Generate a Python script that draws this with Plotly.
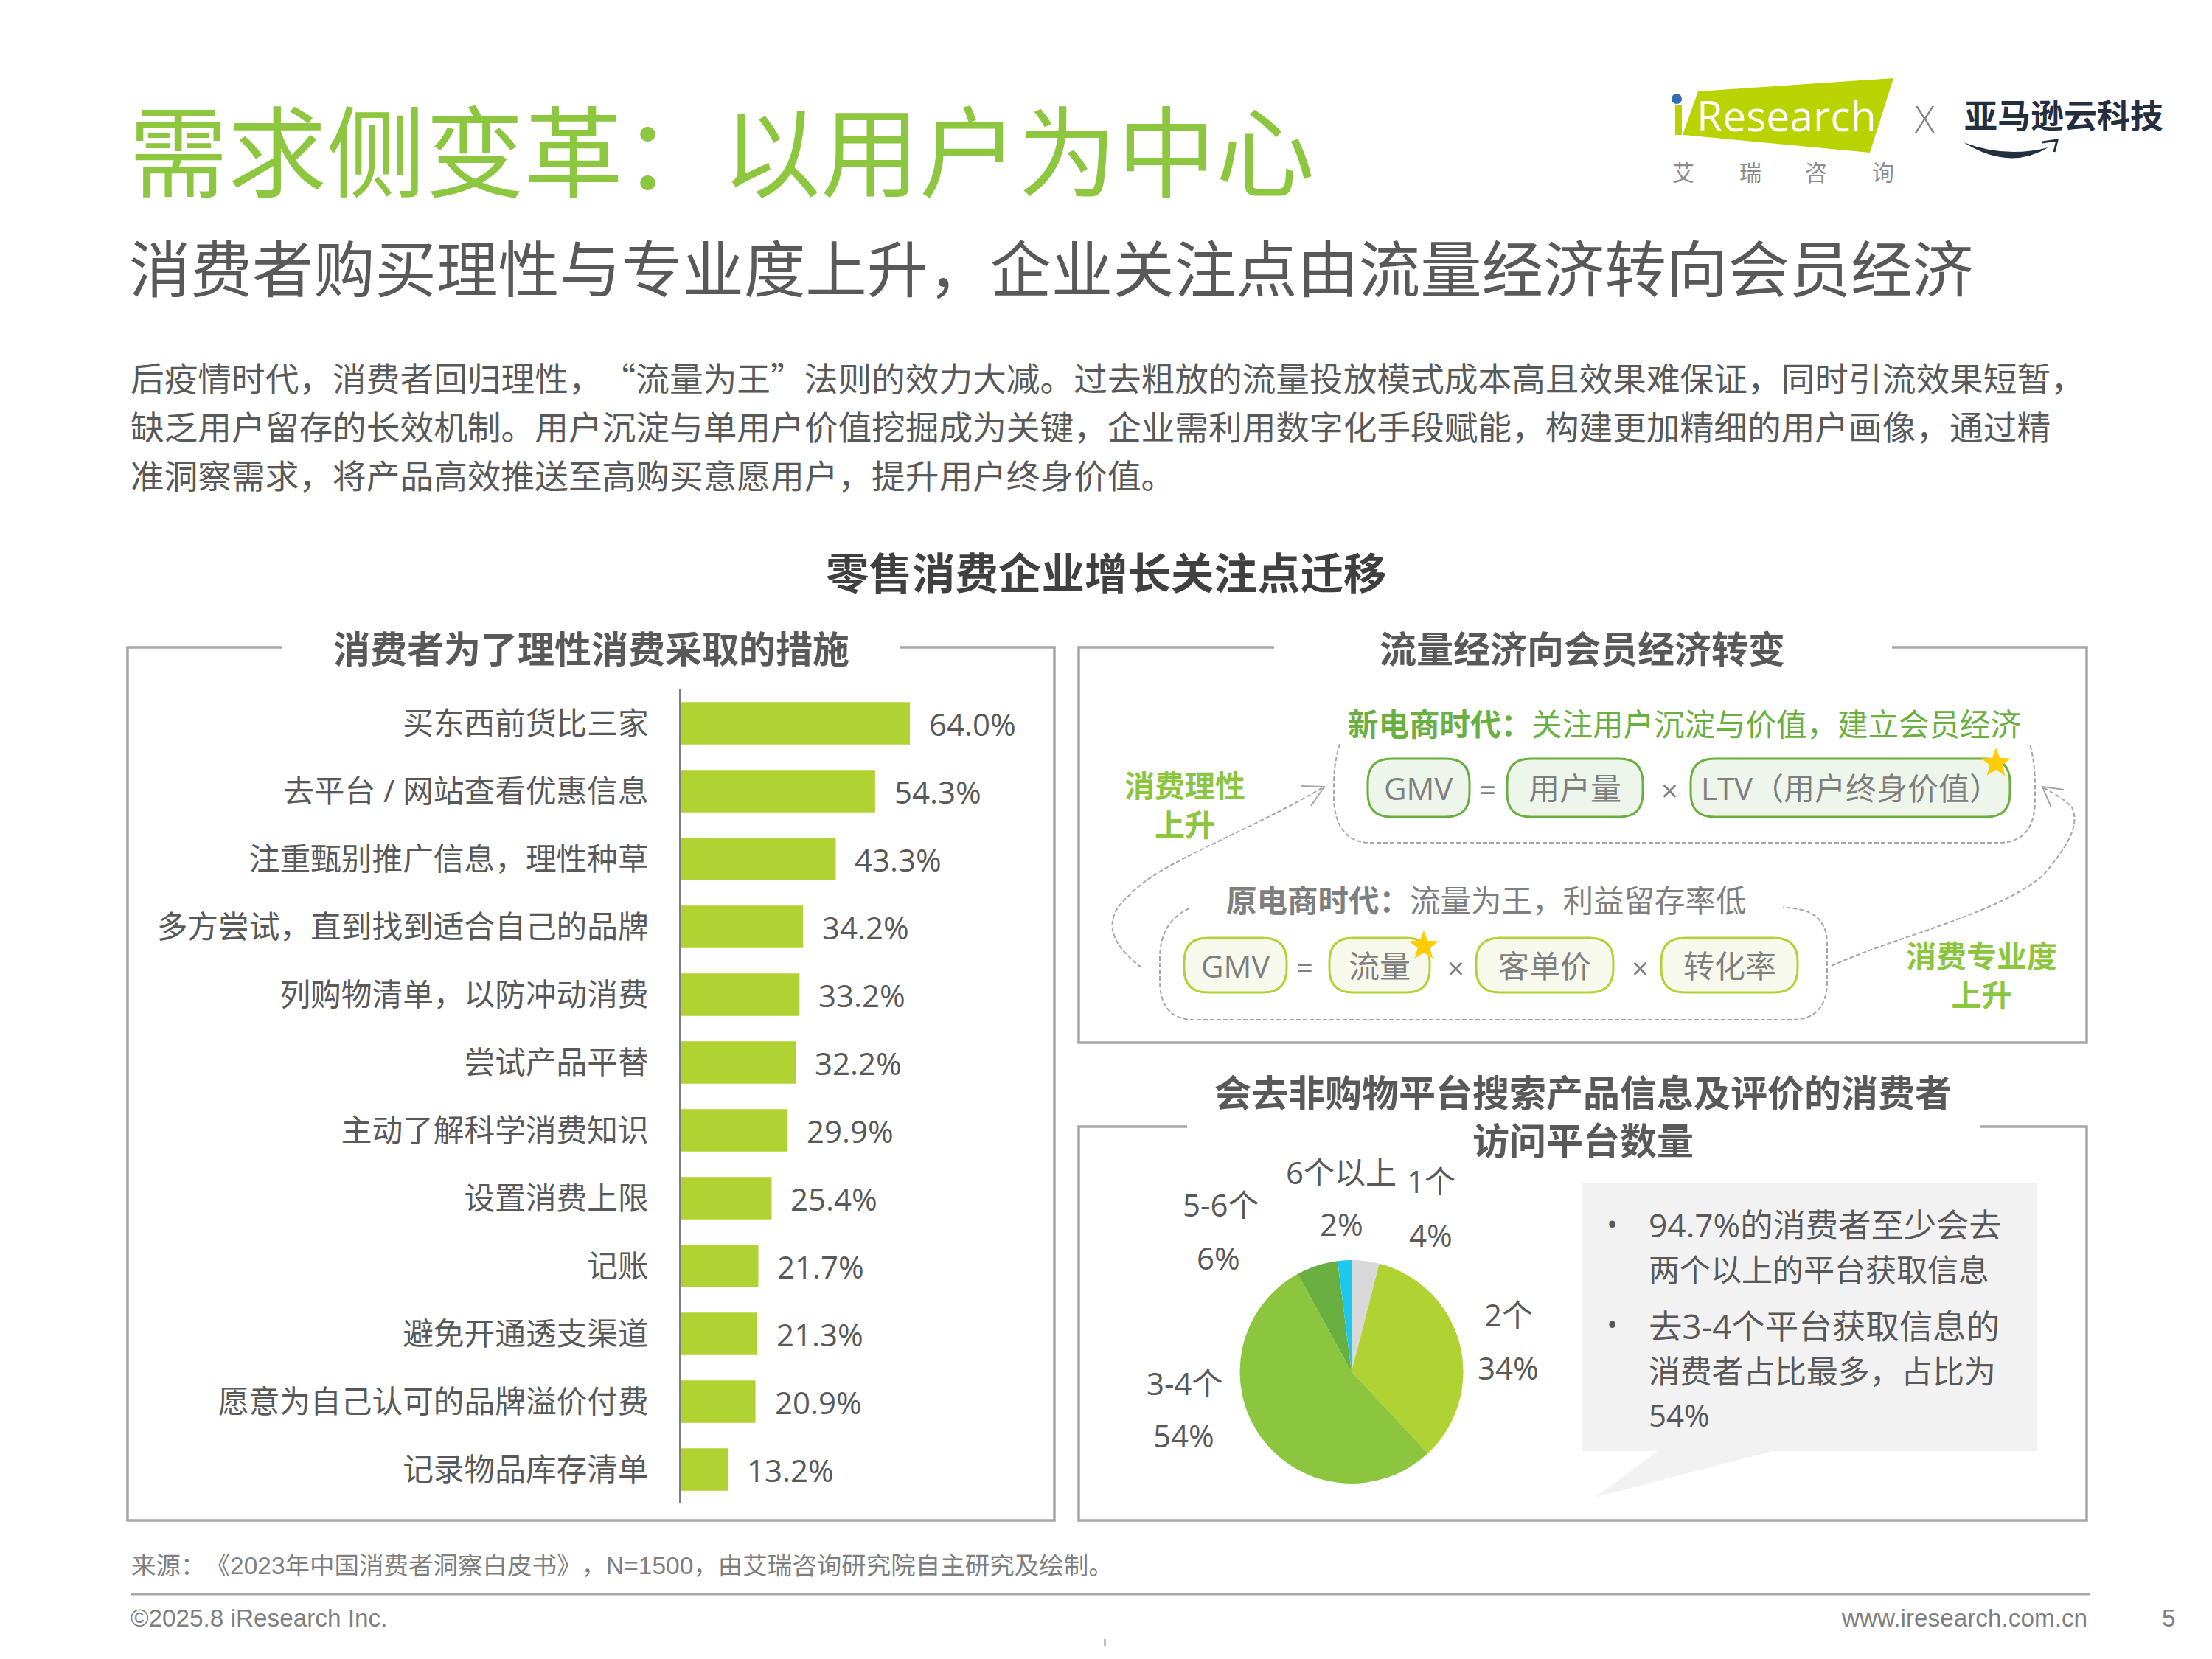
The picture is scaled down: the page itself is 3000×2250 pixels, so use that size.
import math
import plotly.graph_objects as go

# ---------- data ----------
bar_labels = ["买东西前货比三家", "去平台 / 网站查看优惠信息", "注重甄别推广信息\uff0c理性种草",
              "多方尝试\uff0c直到找到适合自己的品牌", "列购物清单\uff0c以防冲动消费", "尝试产品平替",
              "主动了解科学消费知识", "设置消费上限", "记账", "避免开通透支渠道",
              "愿意为自己认可的品牌溢价付费", "记录物品库存清单"]
bar_values = [64.0, 54.3, 43.3, 34.2, 33.2, 32.2, 29.9, 25.4, 21.7, 21.3, 20.9, 13.2]

pie_labels = ["1个", "2个", "3-4个", "5-6个", "6个以上"]
pie_values = [4, 34, 54, 6, 2]
pie_colors = ["#D9D9D9", "#B0D232", "#8CC63F", "#6AB040", "#1CC8F0"]

# \u200b keeps the browser from squeezing neighbouring full-width punctuation
body_lines = ["后疫情时代\uff0c消费者回归理性\uff0c\u200b“流量为王”法则的效力大减。过去粗放的流量投放模式成本高且效果难保证\uff0c同时引流效果短暂\uff0c",
              "缺乏用户留存的长效机制。用户沉淀与单用户价值挖掘成为关键\uff0c企业需利用数字化手段赋能\uff0c构建更加精细的用户画像\uff0c通过精",
              "准洞察需求\uff0c将产品高效推送至高购买意愿用户\uff0c提升用户终身价值。"]
callout_lines = ["94.7%的消费者至少会去", "两个以上的平台获取信息", "去3-4个平台获取信息的", "消费者占比最多\uff0c占比为", "54%"]
source_line = "来源\uff1a\u200b《2023年中国消费者洞察白皮书》\u200b\uff0cN=1500\uff0c由艾瑞咨询研究院自主研究及绘制。"

CJK = "Noto Sans CJK SC"
FONT = "Open Sans, Noto Sans CJK SC"
GREY = "#595959"
W, H = 3000, 2250
PAGE_MARGIN = 8  # browser body margin around the plot div
FIG_W, FIG_H = W - 2 * PAGE_MARGIN, H - 2 * PAGE_MARGIN


def xp(x):
    return (x - PAGE_MARGIN) / FIG_W


def yp(y):
    return 1 - (y - PAGE_MARGIN) / FIG_H


annotations = []
shapes = []


def txt(x, y, text, size, color=GREY, anchor="center", weight=400, family=FONT):
    # glyphs sit a little below the middle of the line box
    annotations.append(dict(x=xp(x), y=yp(y - 0.06 * size), xref="paper", yref="paper", text=text, showarrow=False,
                            xanchor=anchor, yanchor="middle", borderpad=0,
                            font=dict(family=family, size=size, color=color, weight=weight)))


def path(d, line=None, width=3, fill=None, dash="solid"):
    shapes.append(dict(type="path", xref="paper", yref="paper", path=d, fillcolor=fill or "rgba(0,0,0,0)",
                       line=dict(color=line or "rgba(0,0,0,0)", width=width if line else 0, dash=dash)))


def P(x, y):
    return f"{xp(x):.5f},{yp(y):.5f}"


def panel(left, right, top, bottom, gap_l, gap_r):
    path(f"M{P(gap_l, top)} L{P(left, top)} L{P(left, bottom)} L{P(right, bottom)} L{P(right, top)} L{P(gap_r, top)}",
         line="#A6A6A6", width=3.5)


def pill(x0, x1, y0, y1, text, fill, line, r=32):
    path(f"M{P(x0 + r, y0)} L{P(x1 - r, y0)} Q{P(x1, y0)} {P(x1, y0 + r)} L{P(x1, y1 - r)} Q{P(x1, y1)} {P(x1 - r, y1)} "
         f"L{P(x0 + r, y1)} Q{P(x0, y1)} {P(x0, y1 - r)} L{P(x0, y0 + r)} Q{P(x0, y0)} {P(x0 + r, y0)} Z",
         line=line, width=3, fill=fill)
    txt((x0 + x1) / 2, (y0 + y1) / 2 + 3, text, 42, "#7F7F7F")


def star(cx, cy, r=21):
    pts = []
    for i in range(10):
        rad = r if i % 2 == 0 else r * 0.42
        a = math.radians(-90 + i * 36)
        pts.append(P(cx + rad * math.cos(a), cy + rad * math.sin(a)))
    path("M" + " L".join(pts) + " Z", fill="#FFCC00")


# ---------- header ----------
txt(174, 207, "需求侧变革\uff1a以用户为中心", 134, "#8DC63F", "left", family=CJK)
txt(174, 365, "消费者购买理性与专业度上升\uff0c企业关注点由流量经济转向会员经济", 83.4, GREY, "left", family=CJK)
for y, line in zip([514, 580, 646], body_lines):
    txt(176, y, line, 45.7, GREY, "left", family=CJK)
txt(1500, 777, "零售消费企业增长关注点迁移", 58.5, "#404040", weight=700, family=CJK)

# logo
path(f"M{P(2303, 124)} L{P(2568, 106)} L{P(2536, 207)} L{P(2282, 183)} Z", fill="#B9D300")
path(f"M{P(2272, 142)} L{P(2281, 142)} L{P(2281, 183)} L{P(2272, 183)} Z", fill="#B9D300")
shapes.append(dict(type="circle", xref="paper", yref="paper", x0=xp(2267), x1=xp(2281), y0=yp(127), y1=yp(141),
                   fillcolor="#2E6DB4", line=dict(width=0)))
txt(2423, 159, "Research", 57, "#FFFFFF")
for x, ch in zip([2283, 2374, 2463, 2554], "艾瑞咨询"):
    txt(x, 234, ch, 30, "#8C8C8C", family=CJK)
txt(2610, 164, "X", 50, "#7F7F7F", weight=300)
txt(2799, 157, "亚马逊云科技", 45, "#232F3E", weight=700, family=CJK)
path(f"M{P(2663, 193)} Q{P(2720, 215)} {P(2778, 200)} Q{P(2725, 232)} {P(2663, 193)} Z", fill="#232F3E")
path(f"M{P(2770, 193)} L{P(2790, 190)} L{P(2786, 206)}", line="#232F3E", width=3)

# ---------- panels ----------
panel(173, 1430, 878, 2062, 382, 1221)
txt(802, 880, "消费者为了理性消费采取的措施", 50, GREY, weight=700, family=CJK)
panel(1463, 2830, 878, 1414, 1728, 2566)
txt(2146, 880, "流量经济向会员经济转变", 50, GREY, weight=700, family=CJK)
panel(1463, 2830, 1528, 2062, 1610, 2685)
txt(2147, 1514, "会去非购物平台搜索产品信息及评价的消费者<br>访问平台数量", 50, GREY, weight=700, family=CJK)

# ---------- flow diagram ----------
txt(1827, 982, "<b>新电商时代\uff1a</b>关注用户沉淀与价值\uff0c建立会员经济", 41.5, "#6AB040", "left", family=CJK)
txt(1662, 1221, "<b>原电商时代\uff1a</b>流量为王\uff0c利益留存率低", 41.5, "#7F7F7F", "left", family=CJK)

path(f"M{P(1817, 1009)} Q{P(1809, 1035)} {P(1809, 1065)} L{P(1809, 1085)} Q{P(1812, 1143)} {P(1860, 1143)} L{P(2710, 1143)} "
     f"Q{P(2760, 1143)} {P(2760, 1085)} L{P(2760, 1065)} Q{P(2760, 1035)} {P(2753, 1009)}",
     line="#A6A6A6", width=2, dash="6px,3px")
path(f"M{P(1613, 1232)} Q{P(1573, 1250)} {P(1573, 1300)} L{P(1573, 1330)} Q{P(1573, 1383)} {P(1620, 1383)} L{P(2430, 1383)} "
     f"Q{P(2478, 1383)} {P(2478, 1330)} L{P(2478, 1280)} Q{P(2478, 1231)} {P(2418, 1231)}",
     line="#A6A6A6", width=2, dash="6px,3px")

pill(1855, 1993, 1029, 1108, "GMV", "#EEF5EA", "#6AB040")
pill(2044, 2228, 1029, 1108, "用户量", "#EEF5EA", "#6AB040")
pill(2293, 2726, 1029, 1108, "LTV\uff08用户终身价值\uff09", "#EEF5EA", "#6AB040")
txt(2017, 1073, "=", 40, "#7F7F7F")
txt(2264, 1074, "×", 40, "#7F7F7F")
star(2707, 1035)

pill(1606, 1745, 1272, 1346, "GMV", "#F6F9EC", "#B2D235")
pill(1803, 1939, 1272, 1346, "流量", "#F6F9EC", "#B2D235")
pill(2002, 2188, 1272, 1346, "客单价", "#F6F9EC", "#B2D235")
pill(2253, 2438, 1272, 1346, "转化率", "#F6F9EC", "#B2D235")
txt(1769, 1314, "=", 40, "#7F7F7F")
txt(1974, 1315, "×", 40, "#7F7F7F")
txt(2224, 1315, "×", 40, "#7F7F7F")
star(1931, 1283)

txt(1607, 1094, "消费理性<br>上升", 41, "#8CC63F", weight=700, family=FONT)
txt(2687, 1325, "消费专业度<br>上升", 41, "#8CC63F", weight=700, family=FONT)

# dashed arrows between the two eras
path(f"M{P(1548, 1312)} Q{P(1478, 1259)} {P(1532, 1214)} C{P(1570, 1170)} {P(1690, 1130)} {P(1794, 1068)}",
     line="#A6A6A6", width=2, dash="6px,3px")
path(f"M{P(1764, 1066)} L{P(1796, 1067)} L{P(1778, 1093)}", line="#A6A6A6", width=2)
path(f"M{P(2484, 1310)} C{P(2570, 1270)} {P(2710, 1240)} {P(2771, 1187)} C{P(2802, 1150)} {P(2822, 1120)} {P(2810, 1095)} "
     f"Q{P(2802, 1085)} {P(2771, 1068)}", line="#A6A6A6", width=2, dash="6px,3px")
path(f"M{P(2799, 1071)} L{P(2770, 1067)} L{P(2782, 1095)}", line="#A6A6A6", width=2)

# ---------- callout ----------
path(f"M{P(2146, 1605)} L{P(2762, 1605)} L{P(2762, 1968)} L{P(2404, 1968)} L{P(2163, 2031)} L{P(2248, 1968)} L{P(2146, 1968)} Z",
     fill="#F2F2F2")
# the first lines of each bullet run to the full box width in the reference
for y, line, size in zip([1664, 1724, 1801, 1862, 1921], callout_lines, [44.3, 42, 45.5, 42.8, 42]):
    txt(2235, y, line, size, GREY, "left")
txt(2186, 1662, "•", 40, GREY)
txt(2186, 1798, "•", 40, GREY)

# pie labels
pie_name_pos = [(1941, 1604), (2046, 1785), (1607, 1878), (1656, 1636), (1819, 1592)]
pie_pct_pos = [(1940, 1677), (2046, 1857), (1605, 1949), (1653, 1708), (1819, 1662)]
for name, val, p1, p2 in zip(pie_labels, pie_values, pie_name_pos, pie_pct_pos):
    txt(p1[0], p1[1], name, 42)
    txt(p2[0], p2[1], f"{val}%", 42)

# ---------- footer ----------
txt(177, 2126, source_line, 33.5, "#7F7F7F", "left", family="Liberation Sans, Noto Sans CJK SC")
path(f"M{P(177, 2162)} L{P(2834, 2162)}", line="#A6A6A6", width=3)
txt(176, 2196, "©2025.8 iResearch Inc.", 33.3, "#7F7F7F", "left", family="Liberation Sans")
txt(2832, 2196, "www.iresearch.com.cn", 33.3, "#7F7F7F", "right", family="Liberation Sans")
txt(2941, 2196, "5", 33.3, "#7F7F7F", family="Liberation Sans")
path(f"M{P(1497, 2223)} L{P(1500, 2223)} L{P(1500, 2233)} L{P(1497, 2233)} Z", fill="#BFBFBF")

# ---------- traces ----------
fig = go.Figure()
fig.add_trace(go.Bar(x=bar_values, y=bar_labels, orientation="h", marker=dict(color="#B0D232", line=dict(width=0)),
                     hoverinfo="skip", showlegend=False))
fig.add_trace(go.Pie(labels=pie_labels, values=pie_values, sort=False, direction="clockwise", rotation=0,
                     marker=dict(colors=pie_colors, line=dict(width=0)), textinfo="none", showlegend=False,
                     domain=dict(x=[xp(1681.5), xp(1984.5)], y=[yp(2012), yp(1709)])))

for label, val in zip(bar_labels, bar_values):
    annotations.append(dict(x=val, y=label, xref="x", yref="y", text=f"{val:.1f}%", showarrow=False,
                            xanchor="left", xshift=24, yanchor="middle",
                            font=dict(family=FONT, size=42, color=GREY, weight=400)))

fig.update_layout(
    width=FIG_W, height=FIG_H,
    margin=dict(l=0, r=0, t=0, b=0),
    paper_bgcolor="white", plot_bgcolor="white",
    bargap=0.375,
    showlegend=False,
    shapes=shapes,
    annotations=annotations,
    xaxis=dict(domain=[xp(923), xp(1423)], range=[0, 102.88], visible=False, fixedrange=True),
    yaxis=dict(domain=[yp(2039), yp(935)], autorange="reversed", type="category", showgrid=False,
               showline=True, linecolor="#7F7F7F", linewidth=2, ticks="", ticklabelstandoff=33,
               tickfont=dict(family=FONT, size=41.7, color=GREY, weight=400)),
)

fig.write_html("out.html")
